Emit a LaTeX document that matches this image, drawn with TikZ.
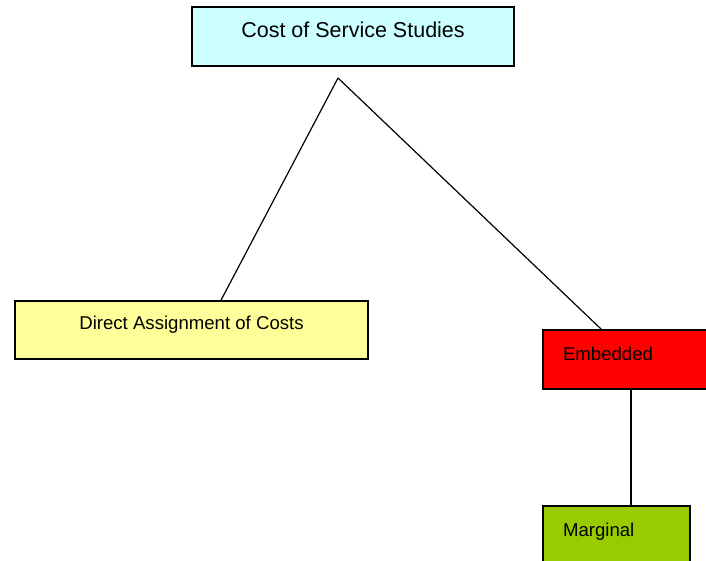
\documentclass[tikz,border=0pt]{standalone}
\usepackage{fontspec}
\setmainfont{Liberation Sans}
\usetikzlibrary{calc}
\definecolor{topcyan}{HTML}{CCFFFF}
\definecolor{dacyellow}{HTML}{FFFF99}
\definecolor{margreen}{HTML}{99CC00}
\begin{document}
\begin{tikzpicture}[x=1pt,y=-1pt,
    box/.style={draw, rectangle, line width=1.6pt, inner sep=0pt, text depth=0.5em,
      font=\fontsize{18.6}{22}\selectfont},
    link/.style={line width=1.2pt}]
            \useasboundingbox (0,0) rectangle (706,561);
            \clip (0,0) rectangle (706,561);

            \node[box, fill=topcyan, minimum width=322pt, minimum height=59pt, text height=0.7em,
              font=\fontsize{21.5}{26}\selectfont] (cos) at (353,36.5) {Cost of Service Studies};
            \node[box, fill=dacyellow, minimum width=353pt, minimum height=58pt, text height=0.55em,
              text depth=0.6em] (dac) at (191.5,330) {Direct Assignment of Costs};
            \node[box, fill=red, text width=160pt, inner xsep=20pt, align=left, minimum height=59pt,
              text height=0.68em] (emb) at (643,359.5) {Embedded};
            \node[box, fill=margreen, text width=107pt, inner xsep=20pt, align=left, minimum height=59pt,
              text height=0.74em] (mar) at (616.5,535.5) {Marginal};

            \coordinate (apex) at (338,78);
            \coordinate (mtop) at ($(mar.north)+(14.5,0)$);

            \draw[link] (apex) -- ($(dac.north)+(29.5,0)$);
            \draw[link] (apex) -- ($(emb.north west)+(59,0)$);
            \draw[link] (mtop |- emb.south) -- (mtop);
        \end{tikzpicture}
\end{document}
